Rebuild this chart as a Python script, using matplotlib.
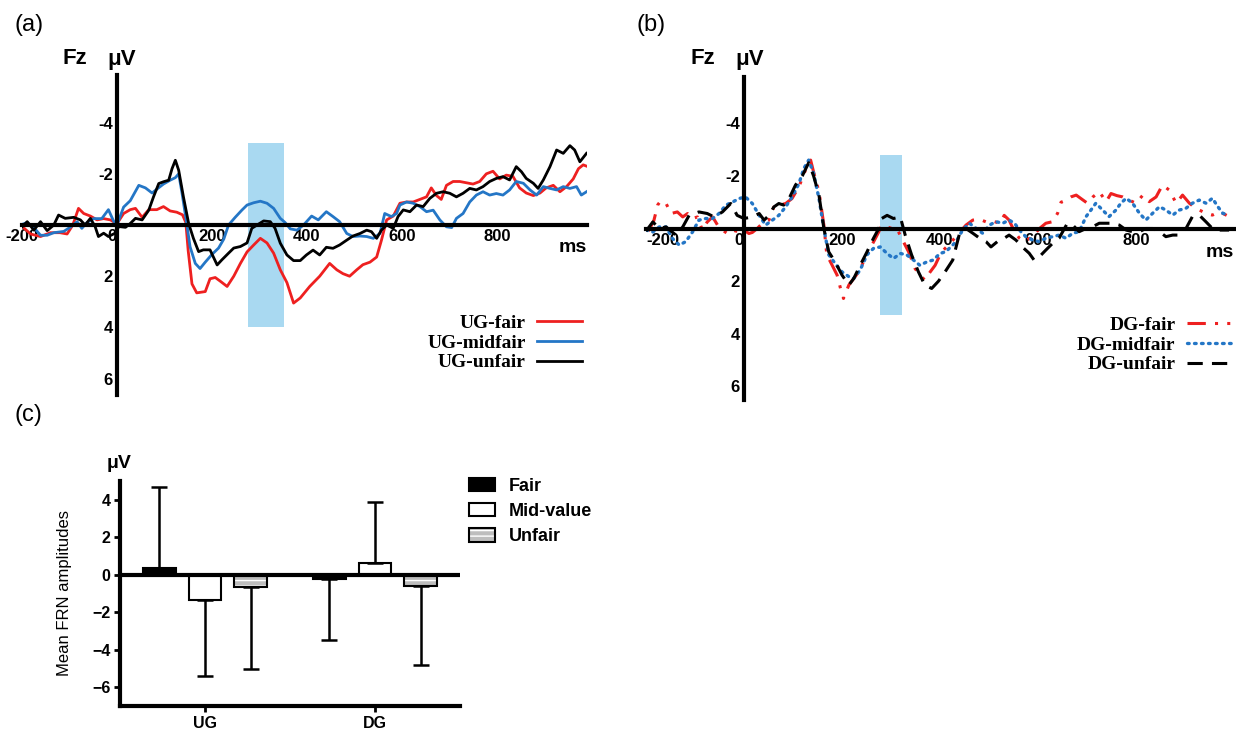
import numpy as np
import matplotlib
matplotlib.use("Agg")
import matplotlib.pyplot as plt
from matplotlib.patches import Patch, Rectangle

# ---------------- data ----------------
# panel (a): UG waveforms at Fz (ms, microvolt)
ug_fair_t = [-203, -182, -161, -140, -120, -105, -93, -81, -70, -56, -42, -28, -14, 0, 14, 28, 39, 53, 67, 84,
             98, 112, 126, 138, 145, 150, 158, 168, 186, 196, 207, 218, 232, 246, 260, 274, 288, 302, 316, 330,
             344, 358, 372, 386, 406, 427, 448, 463, 476, 490, 505, 518, 533, 547, 557, 568, 582, 596, 610, 624,
             638, 652, 662, 673, 683, 694, 708, 722, 736, 750, 764, 778, 792, 806, 820, 834, 848, 862, 877, 891,
             904, 919, 933, 947, 961, 972, 982, 989]
ug_fair_v = [0.0, 0.35, 0.45, 0.3, 0.3, 0.35, 0.0, -0.65, -0.45, -0.35, -0.2, -0.25, -0.2, -0.05, -0.45, -0.6,
             -0.65, -0.3, -0.6, -0.6, -0.72, -0.55, -0.5, -0.4, -0.1, 1.0, 2.3, 2.65, 2.6, 2.1, 2.05, 2.2, 2.4,
             2.0, 1.5, 1.05, 0.78, 0.52, 0.7, 1.1, 1.75, 2.25, 3.05, 2.85, 2.4, 2.0, 1.5, 1.75, 1.9, 2.0, 1.75,
             1.55, 1.45, 1.25, 0.6, -0.2, -0.35, -0.85, -0.9, -0.9, -1.0, -1.1, -1.45, -1.15, -1.0, -1.55, -1.7,
             -1.7, -1.65, -1.6, -1.7, -2.0, -2.1, -1.8, -1.95, -1.9, -1.45, -1.25, -1.15, -1.25, -1.45, -1.55,
             -1.3, -1.5, -1.8, -2.2, -2.35, -2.3]

ug_mid_t = [-203, -189, -175, -161, -147, -133, -112, -98, -84, -74, -63, -49, -32, -18, -7, 0, 14, 28, 46, 60,
            74, 84, 98, 112, 123, 130, 137, 147, 154, 165, 175, 186, 200, 214, 225, 235, 249, 263, 274, 288,
            302, 316, 330, 344, 354, 365, 379, 393, 410, 424, 441, 455, 469, 484, 497, 512, 526, 540, 554, 564,
            578, 589, 596, 610, 624, 638, 652, 666, 680, 694, 705, 715, 729, 743, 757, 771, 785, 799, 813, 827,
            841, 856, 870, 884, 898, 912, 926, 940, 954, 968, 978, 989]
ug_mid_v = [0.0, -0.1, 0.1, 0.4, 0.4, 0.3, 0.25, 0.08, -0.13, 0.13, -0.1, -0.25, -0.25, -0.6, -0.15, 0.0, -0.7,
            -0.95, -1.55, -1.45, -1.25, -1.4, -1.6, -1.75, -1.85, -2.0, -1.25, -0.05, 0.85, 1.5, 1.7, 1.45, 1.15,
            0.9, 0.55, 0.0, -0.3, -0.58, -0.78, -0.87, -0.93, -0.85, -0.65, -0.26, -0.1, 0.15, 0.2, 0.0, -0.35,
            -0.2, -0.52, -0.33, -0.13, 0.33, 0.45, 0.43, 0.45, 0.52, 0.33, -0.45, -0.33, -0.45, -0.78, -0.9,
            -0.85, -0.72, -0.52, -0.58, -0.2, 0.07, 0.1, -0.26, -0.45, -0.9, -1.17, -1.3, -1.17, -1.23, -1.17,
            -1.37, -1.7, -1.63, -1.37, -1.17, -1.5, -1.43, -1.37, -1.5, -1.43, -1.5, -1.17, -1.3]

ug_unfair_t = [-203, -189, -175, -161, -147, -133, -123, -109, -91, -77, -67, -56, -46, -39, -28, -18, -4, 4, 18,
               28, 39, 53, 67, 77, 88, 98, 109, 116, 123, 130, 140, 151, 161, 172, 182, 196, 211, 221, 235, 246,
               260, 274, 284, 295, 309, 323, 333, 344, 358, 372, 386, 399, 413, 427, 441, 455, 469, 484, 497,
               512, 526, 536, 547, 557, 568, 582, 592, 603, 617, 631, 645, 659, 673, 687, 701, 715, 729, 743,
               757, 771, 785, 799, 813, 827, 841, 852, 862, 877, 887, 898, 912, 926, 940, 954, 964, 975, 989]
ug_unfair_v = [0.13, -0.13, 0.2, -0.13, 0.22, 0.0, -0.39, -0.26, -0.3, -0.2, 0.0, -0.26, 0.06, 0.45, 0.32, 0.45,
               0.32, 0.06, 0.09, -0.06, -0.26, -0.2, -0.58, -1.1, -1.62, -1.69, -1.75, -2.2, -2.53, -2.14, -1.1,
               -0.06, 0.52, 1.04, 0.97, 0.97, 1.56, 1.36, 1.1, 0.9, 0.84, 0.7, 0.13, 0.0, -0.16, -0.13, 0.13,
               0.71, 1.17, 1.39, 1.39, 1.17, 0.98, 1.17, 0.87, 0.91, 0.78, 0.59, 0.43, 0.33, 0.2, 0.26, 0.52,
               0.2, 0.0, 0.13, -0.33, -0.59, -0.52, -0.78, -0.72, -1.04, -1.24, -1.3, -1.24, -1.1, -1.24, -1.43,
               -1.37, -1.5, -1.7, -1.82, -1.89, -1.76, -2.28, -2.08, -1.82, -1.63, -1.43, -1.76, -2.28, -2.93,
               -2.8, -3.1, -2.93, -2.47, -2.8]

# panel (b): DG waveforms at Fz
dg_fair_t = [-195, -184, -176, -170, -159, -149, -136, -125, -115, -105, -95, -85, -75, -64, -54, -44, -34, -24,
             -10, 0, 10, 17, 27, 37, 51, 61, 71, 85, 98, 112, 125, 136, 142, 153, 163, 169, 180, 190, 197, 203,
             214, 224, 234, 247, 261, 275, 281, 292, 302, 312, 322, 336, 349, 359, 369, 380, 390, 403, 419, 433,
             453, 467, 481, 498, 511, 522, 531, 541, 552, 562, 572, 589, 603, 616, 630, 640, 647, 654, 667, 678,
             692, 701, 712, 725, 739, 749, 761, 773, 786, 800, 814, 827, 841, 854, 868, 882, 895, 909, 922, 936,
             946, 956, 970, 985]
dg_fair_v = [0.1, -0.3, -0.9, -1.05, -0.95, -0.57, -0.63, -0.44, -0.57, -0.38, -0.44, 0.06, -0.25, -0.44, -0.13,
             0.06, 0.19, 0.06, 0.13, 0.06, 0.19, 0.15, 0.0, -0.19, -0.32, -0.82, -0.89, -0.95, -1.14, -1.58, -2.2,
             -2.6, -2.15, -1.4, -0.13, 1.0, 1.4, 1.77, 2.28, 2.66, 2.15, 1.9, 1.65, 1.14, 0.63, 0.13, -0.13, -0.06,
             0.0, 0.0, 0.38, 0.89, 1.52, 1.77, 1.96, 1.65, 1.4, 0.89, 0.6, 0.3, -0.13, -0.32, -0.35, -0.22, -0.26,
             -0.2, -0.5, -0.32, 0.12, 0.37, 0.5, 0.3, 0.0, -0.2, -0.26, -0.58, -1.0, -1.05, -1.2, -1.27, -1.08,
             -0.96, -1.2, -1.4, -1.02, -1.33, -1.25, -1.2, -1.08, -0.96, -1.27, -1.02, -1.2, -1.65, -1.46, -0.96,
             -1.27, -0.96, -0.77, -0.64, -0.55, -0.51, -0.64, -0.5]

dg_mid_t = [-200, -186, -173, -159, -146, -132, -119, -105, -92, -78, -64, -51, -37, -24, -10, 3, 17, 31, 44, 58,
            71, 85, 98, 112, 122, 132, 142, 153, 163, 173, 186, 200, 214, 224, 237, 251, 264, 278, 292, 305,
            319, 332, 346, 359, 373, 386, 400, 412, 433, 446, 460, 474, 487, 501, 514, 528, 541, 552, 565, 575,
            589, 603, 616, 630, 643, 657, 671, 684, 698, 708, 718, 732, 745, 759, 769, 780, 793, 807, 820, 834,
            848, 861, 875, 888, 902, 915, 929, 943, 956, 967, 977, 990]
dg_mid_v = [0.06, 0.13, -0.06, -0.06, 0.38, 0.63, 0.5, 0.13, -0.32, -0.38, -0.38, -0.57, -0.89, -1.0, -1.14, -1.2,
            -0.95, -0.5, -0.13, -0.32, -0.5, -0.82, -1.2, -1.7, -2.28, -2.6, -2.1, -1.14, 0.0, 1.0, 1.33, 1.65,
            1.83, 1.9, 1.58, 1.0, 0.76, 0.7, 0.95, 1.14, 0.95, 1.0, 1.2, 1.4, 1.27, 1.2, 0.95, 0.88, 0.5, 0.06,
            -0.2, 0.0, 0.18, -0.13, -0.26, -0.2, -0.32, -0.2, 0.12, 0.31, 0.44, 0.5, 0.37, 0.31, 0.25, 0.37,
            0.18, 0.12, -0.45, -0.7, -0.96, -0.7, -0.45, -0.7, -0.96, -1.15, -0.96, -0.58, -0.32, -0.58, -0.83,
            -0.7, -0.51, -0.7, -0.77, -0.96, -1.08, -0.96, -1.15, -0.83, -0.58, -0.5]

dg_unfair_t = [-200, -186, -173, -159, -139, -125, -112, -92, -75, -61, -44, -27, -14, 0, 17, 31, 41, 51, 61, 71,
               81, 92, 105, 119, 132, 142, 153, 163, 173, 186, 200, 214, 224, 237, 251, 264, 275, 281, 292, 305,
               319, 329, 342, 356, 369, 383, 397, 412, 426, 440, 453, 467, 481, 494, 504, 517, 531, 541, 555,
               568, 582, 592, 603, 616, 630, 643, 654, 660, 671, 684, 698, 712, 725, 739, 752, 766, 780, 793,
               807, 820, 834, 848, 861, 875, 888, 902, 915, 929, 943, 956, 967, 990]
dg_unfair_v = [0.1, -0.25, 0.0, -0.06, 0.25, -0.06, -0.5, -0.63, -0.57, -0.44, -0.63, -0.95, -0.5, -0.38, -0.44,
               -0.57, -0.32, -0.5, -0.82, -0.95, -0.89, -1.14, -1.65, -2.0, -2.5, -2.0, -1.27, 0.0, 0.89, 1.27,
               1.77, 2.15, 1.9, 1.4, 0.89, 0.38, 0.0, -0.38, -0.5, -0.38, -0.44, 0.25, 1.0, 1.65, 2.15, 2.28, 2.0,
               1.6, 1.2, 0.18, 0.0, 0.18, 0.37, 0.5, 0.7, 0.5, 0.37, 0.25, 0.44, 0.7, 0.94, 1.2, 1.07, 0.82, 0.56,
               0.37, 0.0, -0.2, -0.13, 0.12, 0.0, -0.07, -0.2, -0.2, -0.2, -0.13, 0.06, 0.12, 0.12, 0.0, 0.0, 0.12,
               0.31, 0.25, 0.25, 0.0, -0.45, -0.51, -0.25, 0.0, 0.06, 0.06]

# FRN windows (ms start, ms end, top, bottom)
win_a = (275, 352, -3.2, 4.0)
win_b = (278, 322, -2.8, 3.3)

# panel (c): mean FRN amplitudes
games = ["UG", "DG"]
conditions = ["Fair", "Mid-value", "Unfair"]
frn_fair = [0.35, -0.25]
frn_mid = [-1.35, 0.65]
frn_unfair = [-0.65, -0.6]
err_fair = [4.35, 3.25]
err_mid = [4.05, 3.25]
err_unfair = [4.35, 4.2]

# ---------------- figure ----------------
W, H = 1236, 732
fig = plt.figure(figsize=(W / 100, H / 100), dpi=100)

red = "#ee2020"
blue = "#2476c6"
shade = "#a9d9f1"
sans = "Liberation Sans"
serif = "Liberation Serif"


def fx(px):
    return px / W


def fy(py):
    return 1 - py / H


def erp_axes(rect, xlim, ylim):
    ax = fig.add_axes(rect)
    ax.set_xlim(*xlim)
    ax.set_ylim(*ylim)
    for s in ["top", "right"]:
        ax.spines[s].set_visible(False)
    ax.spines["left"].set_position(("data", 0))
    ax.spines["bottom"].set_position(("data", 0))
    ax.spines["left"].set_linewidth(3)
    ax.spines["bottom"].set_linewidth(3)
    ax.spines["left"].set_zorder(5)
    ax.spines["bottom"].set_zorder(5)
    ax.set_yticks([-4, -2, 2, 4, 6])
    ax.set_yticklabels(["-4", "-2", "2", "4", "6"])
    ax.set_xticks([-200, 0, 200, 400, 600, 800])
    ax.set_xticklabels(["-200", "0", "200", "400", "600", "800"])
    ax.tick_params(length=0, labelsize=12, pad=3)
    for lab in ax.get_xticklabels() + ax.get_yticklabels():
        lab.set_fontweight("bold")
        lab.set_fontfamily(sans)
    ax.get_xticklabels()[1].set_horizontalalignment("right")
    ax.patch.set_alpha(0)
    return ax


# ---- (a)
ax_a = erp_axes([fx(22), fy(395), fx(565), 320 / H], (-200, 990), (6.64, -5.86))
ax_a.add_patch(Rectangle((win_a[0], win_a[2]), win_a[1] - win_a[0], win_a[3] - win_a[2],
                         color=shade, lw=0, zorder=0))
la1, = ax_a.plot(ug_fair_t, ug_fair_v, color=red, lw=2)
la2, = ax_a.plot(ug_mid_t, ug_mid_v, color=blue, lw=2)
la3, = ax_a.plot(ug_unfair_t, ug_unfair_v, color="black", lw=2)
ax_a.text(990, 0.55, "ms", ha="right", va="top", fontsize=14, fontweight="bold", family=sans)
fig.legend([la1, la2, la3], ["UG-fair", "UG-midfair", "UG-unfair"], loc="center right",
           bbox_to_anchor=(fx(582), fy(343)), frameon=False, markerfirst=False,
           prop={"family": serif, "weight": "bold", "size": 14}, handlelength=2.3,
           handletextpad=0.6, labelspacing=0.1, borderpad=0, borderaxespad=0)
fig.text(fx(75), fy(59), "Fz", ha="center", va="center", fontsize=16, fontweight="bold", family=sans)
fig.text(fx(122), fy(59), "\u03bcV", ha="center", va="center", fontsize=16, fontweight="bold", family=sans)
fig.text(fx(15), fy(25), "(a)", ha="left", va="center", fontsize=17, family=sans)

# ---- (b)
ax_b = erp_axes([fx(646), fy(400), fx(588), 323 / H], (-200, 1000), (6.52, -5.76))
ax_b.get_xticklabels()[0].set_horizontalalignment("left")
ax_b.add_patch(Rectangle((win_b[0], win_b[2]), win_b[1] - win_b[0], win_b[3] - win_b[2],
                         color=shade, lw=0, zorder=0))
lb1, = ax_b.plot(dg_fair_t, dg_fair_v, color=red, lw=2.2, linestyle=(0, (6, 3, 1, 3, 1, 3)))
lb2, = ax_b.plot(dg_mid_t, dg_mid_v, color=blue, lw=2.4, linestyle=(0, (0.5, 1.6)),
                 dash_capstyle="round")
lb3, = ax_b.plot(dg_unfair_t, dg_unfair_v, color="black", lw=2.2, linestyle=(0, (5, 3)))
ax_b.text(1000, 0.6, "ms", ha="right", va="top", fontsize=14, fontweight="bold", family=sans)
fig.legend([lb1, lb2, lb3], ["DG-fair", "DG-midfair", "DG-unfair"], loc="center right",
           bbox_to_anchor=(fx(1232), fy(345)), frameon=False, markerfirst=False,
           prop={"family": serif, "weight": "bold", "size": 14}, handlelength=2.3,
           handletextpad=0.6, labelspacing=0.1, borderpad=0, borderaxespad=0)
fig.text(fx(703), fy(59), "Fz", ha="center", va="center", fontsize=16, fontweight="bold", family=sans)
fig.text(fx(750), fy(59), "\u03bcV", ha="center", va="center", fontsize=16, fontweight="bold", family=sans)
fig.text(fx(636), fy(25), "(b)", ha="left", va="center", fontsize=17, family=sans)

# ---- (c)
ax_c = fig.add_axes([fx(120), fy(706), fx(340), 225 / H])
ax_c.set_xlim(-0.5, 1.5)
ax_c.set_ylim(-7, 5)
for s in ["top", "right"]:
    ax_c.spines[s].set_visible(False)
ax_c.spines["left"].set_linewidth(3)
ax_c.spines["bottom"].set_linewidth(3)
x = np.arange(len(games))
off, bw = 0.27, 0.194
ekw = dict(elinewidth=1.8, capthick=1.8, capsize=5.5, ecolor="black")


def one_sided(vals, errs):
    lo = [e if v < 0 else 0 for v, e in zip(vals, errs)]
    hi = [e if v >= 0 else 0 for v, e in zip(vals, errs)]
    return [lo, hi]


ax_c.bar(x - off, frn_fair, bw, color="black", edgecolor="black", lw=1.5, zorder=3,
         yerr=one_sided(frn_fair, err_fair), error_kw=ekw)
ax_c.bar(x, frn_mid, bw, color="white", edgecolor="black", lw=1.5, zorder=3,
         yerr=one_sided(frn_mid, err_mid), error_kw=ekw)
ax_c.bar(x + off, frn_unfair, bw, color="#bdbdbd", edgecolor="white", hatch="---", lw=0, zorder=3)
ax_c.bar(x + off, frn_unfair, bw, fill=False, edgecolor="black", lw=1.5, zorder=4,
         yerr=one_sided(frn_unfair, err_unfair), error_kw=ekw)
ax_c.axhline(0, color="black", lw=3, zorder=5)
ax_c.set_yticks([-6, -4, -2, 0, 2, 4])
ax_c.set_xticks(x)
ax_c.set_xticklabels(games)
ax_c.tick_params(length=4, width=2, labelsize=11.5, pad=3)
for lab in ax_c.get_xticklabels() + ax_c.get_yticklabels():
    lab.set_fontweight("bold")
    lab.set_fontfamily(sans)

h_fair = Patch(facecolor="black", edgecolor="black", lw=1.5)
h_mid = Patch(facecolor="white", edgecolor="black", lw=1.5)
h_unf = (Patch(facecolor="#bdbdbd", edgecolor="white", hatch="---", lw=0),
         Patch(fill=False, edgecolor="black", lw=1.5))
fig.legend([h_fair, h_mid, h_unf], conditions, loc="upper left", bbox_to_anchor=(fx(469), fy(478)),
           frameon=False, prop={"family": sans, "weight": "bold", "size": 13},
           handlelength=1.45, handleheight=0.75, handletextpad=0.75, labelspacing=0.45,
           borderpad=0, borderaxespad=0)
fig.text(fx(119), fy(463), "\u03bcV", ha="center", va="center", fontsize=14, fontweight="bold", family=sans)
fig.text(fx(65), fy(593), "Mean FRN amplitudes", ha="center", va="center", rotation=90,
         fontsize=12, family=sans)
fig.text(fx(15), fy(415), "(c)", ha="left", va="center", fontsize=17, family=sans)

fig.savefig("out.png", dpi=100)
